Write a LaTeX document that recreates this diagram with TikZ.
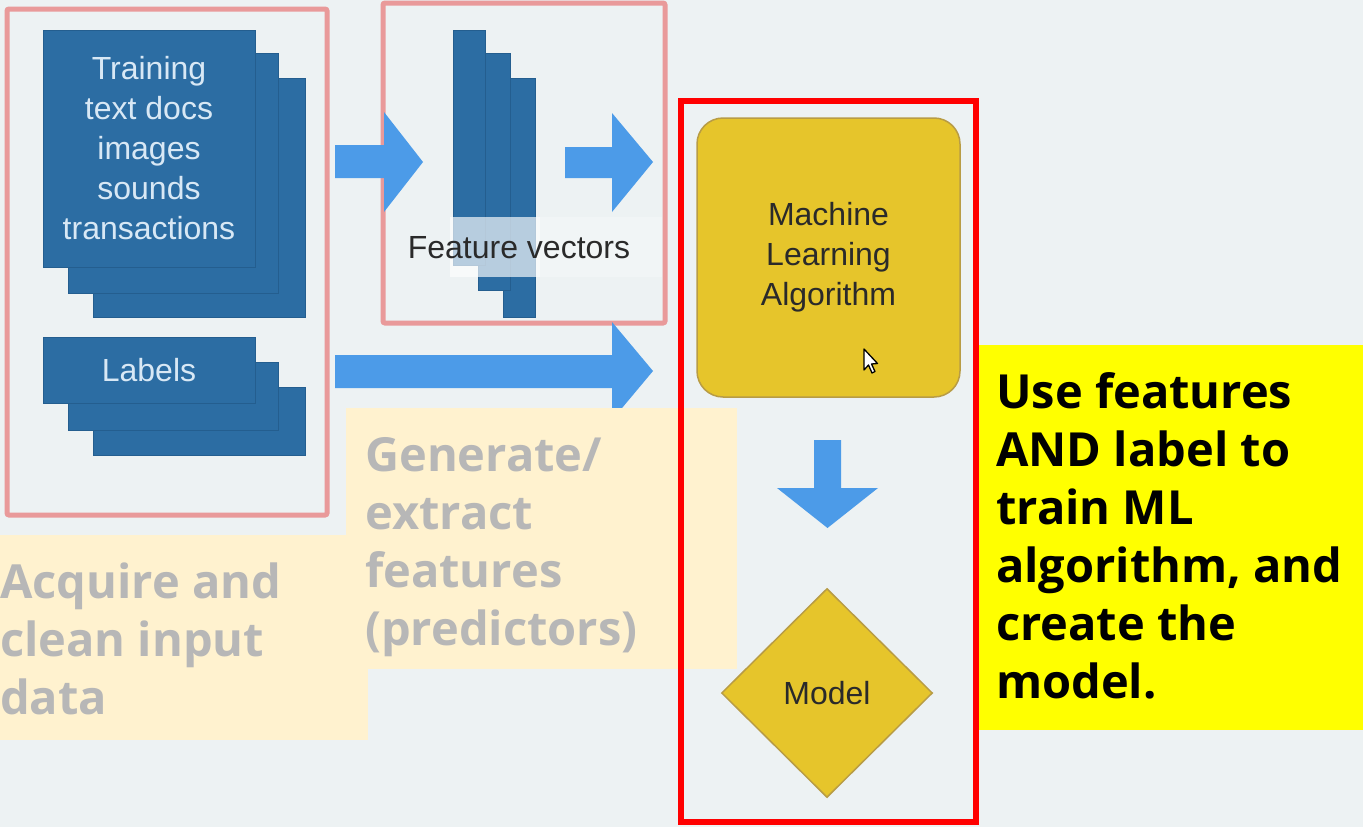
\documentclass[tikz,border=0pt]{standalone}
\usepackage{fontspec}
\setmainfont{Liberation Sans}
\newfontfamily\opensans{Open Sans}
\usetikzlibrary{shapes.geometric}
\definecolor{bg}{HTML}{EDF2F3}
\definecolor{pinkline}{HTML}{E99A9A}
\definecolor{docblue}{HTML}{2C6DA3}
\definecolor{docedge}{HTML}{245E8F}
\definecolor{doctext}{HTML}{D8E8F5}
\definecolor{arrowblue}{HTML}{4C9BE8}
\definecolor{pale}{HTML}{FFF2CF}
\definecolor{graytext}{HTML}{B7B7B7}
\definecolor{gold}{HTML}{E6C52B}
\definecolor{goldedge}{HTML}{B89C45}
\definecolor{darktext}{HTML}{2A2A2A}
\definecolor{hiyellow}{HTML}{FFFF00}
\tikzset{
  docbox/.style={fill=docblue, draw=docedge, line width=0.8pt, inner sep=0pt, rectangle},
  frame/.style={draw=pinkline, line width=5pt, rounded corners=2pt},
  blockarrow/.style={fill=arrowblue},
  diagtext/.style={font=\fontsize{32}{40}\selectfont, inner sep=0pt, align=center},
  graynote/.style={font=\opensans\bfseries\fontsize{47}{58}\selectfont, text=graytext, inner sep=0pt, align=left},
  blacknote/.style={font=\opensans\bfseries\fontsize{47}{58}\selectfont, text=black, inner sep=0pt, align=left},
}
\begin{document}
\begin{tikzpicture}[x=1pt,y=-1pt]
\useasboundingbox (0,0) rectangle (1363,827);
\fill[bg] (0,0) rectangle (1363,827);

% ---- training docs stack
\node[docbox, minimum width=212pt, minimum height=239pt] (docs3) at (199,197.5) {};
\node[docbox, minimum width=210pt, minimum height=240pt] (docs2) at (173,173) {};
\node[docbox, minimum width=212pt, minimum height=237pt, diagtext, text=doctext] (docs) at (149,148.5)
  {Training\\text docs\\images\\sounds\\transactions};

% ---- labels stack
\node[docbox, minimum width=212pt, minimum height=68pt] (lab3) at (199,421) {};
\node[docbox, minimum width=210pt, minimum height=68pt] (lab2) at (173,396) {};
\node[docbox, minimum width=212pt, minimum height=66pt, diagtext, text=doctext] (labels) at (149,370) {Labels};

% ---- feature vectors bars
\node[docbox, minimum width=32pt, minimum height=239pt] (fv3) at (519,197.5) {};
\node[docbox, minimum width=32pt, minimum height=237pt] (fv2) at (494,171.5) {};
\node[docbox, minimum width=32pt, minimum height=235pt] (fv1) at (469,147.5) {};
\fill[white, opacity=0.25] (450,217) rectangle (662,277);
\fill[white, opacity=0.55] (450,217) rectangle (540,277);
\node[diagtext, text=darktext, anchor=base] (fvtext) at (519,258) {Feature vectors};

% ---- frames
\draw[frame] (7,9) rectangle (327,515);
\draw[frame] (383,3) rectangle (665,323);

% ---- block arrows
\fill[blockarrow] (335,145) -- (384,145) -- (384,112) -- (423,162) -- (384,212) -- (384,178) -- (335,178) -- cycle;
\fill[blockarrow] (565,147) -- (612,147) -- (612,113) -- (653,162) -- (612,212) -- (612,178) -- (565,178) -- cycle;
\fill[blockarrow] (335,355) -- (612,355) -- (612,322) -- (653,371) -- (612,420) -- (612,388) -- (335,388) -- cycle;

% ---- pale note boxes
\fill[pale] (346,408) rectangle (737,669);
\fill[pale] (0,535) rectangle (368,740);
\node[graynote, anchor=north west] (acq) at (0,563) {Acquire and\\clean input\\data};
\node[graynote, anchor=north west] (gen) at (365,437) {Generate/\\extract\\features\\(predictors)};

% ---- ML algorithm and model
\node[rectangle, rounded corners=26pt, fill=gold, draw=goldedge, line width=1.5pt,
      minimum width=263pt, minimum height=279pt, diagtext, text=darktext] (ml) at (828.5,257.5)
  {Machine\\Learning\\Algorithm};
\fill[white, draw=black, line width=1.3pt, line join=round]
  (864,349) -- (864,370) -- (868.5,365) -- (872,373) -- (875,371.5) -- (871.5,364) -- (877.5,363.5) -- cycle;
\fill[blockarrow] (814,440) -- (841,440) -- (841,488) -- (878,488) -- (827.5,528) -- (777,488) -- (814,488) -- cycle;
\node[diamond, fill=gold, draw=goldedge, line width=1.5pt, minimum width=211pt, minimum height=209pt,
      inner sep=0pt, diagtext, text=darktext] (model) at (827,693) {Model};

% ---- yellow note
\fill[hiyellow] (979,345) rectangle (1363,730);
\node[blacknote, anchor=north west] (note) at (996,372)
  {Use features\\AND label to\\train ML\\algorithm, and\\create the\\model.};

% ---- red frame
\draw[red, line width=6pt] (681,101) rectangle (976,822);
\end{tikzpicture}
\end{document}
